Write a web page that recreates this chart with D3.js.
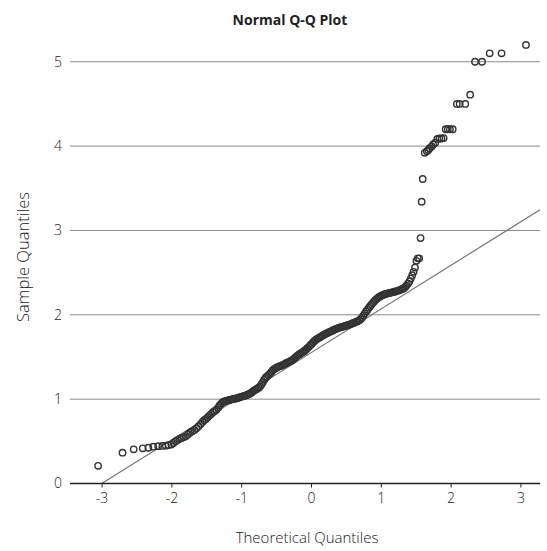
<!DOCTYPE html>
<html>
<head>
<meta charset="utf-8">
<script src="https://cdn.jsdelivr.net/npm/d3@7/dist/d3.min.js"></script>
<style>
  html, body { margin: 0; padding: 0; background: #fff; }
  svg { display: block; }
  text { font-family: "Open Sans", "Noto Sans", sans-serif; fill: #222; }
</style>
</head>
<body>
<svg id="chart" width="547" height="551"></svg>
<script>
// ---- data ----
const title = "Normal Q-Q Plot";
const xLabel = "Theoretical Quantiles";
const yLabel = "Sample Quantiles";
const xTicks = [-3, -2, -1, 0, 1, 2, 3];
const yTicks = [0, 1, 2, 3, 4, 5];
const gridValues = [1, 2, 3, 4, 5];
const lineIntercept = 1.55;
const lineSlope = 0.517;

const theoretical = [
  -3.05, -2.70, -2.54, -2.41, -2.33, -2.26, -2.19, -2.13, -2.08, -2.04,
  -2.00, -1.97, -1.94, -1.91, -1.88, -1.85, -1.82, -1.79, -1.76, -1.73,
  -1.70, -1.67, -1.64, -1.61, -1.58, -1.555, -1.53, -1.505, -1.48, -1.455,
  -1.43, -1.405, -1.38, -1.355, -1.33, -1.31, -1.29, -1.27, -1.25, -1.23,
  -1.21, -1.19, -1.17, -1.15, -1.13, -1.11, -1.09, -1.07, -1.05, -1.03,
  -1.01, -0.99, -0.97, -0.95, -0.93, -0.91, -0.89, -0.87, -0.85, -0.83,
  -0.81, -0.79, -0.77, -0.75, -0.73, -0.71, -0.69, -0.67, -0.65, -0.63,
  -0.61, -0.59, -0.57, -0.55, -0.53, -0.51, -0.49, -0.47, -0.45, -0.43,
  -0.41, -0.39, -0.37, -0.35, -0.33, -0.31, -0.29, -0.27, -0.25, -0.23,
  -0.21, -0.19, -0.17, -0.15, -0.13, -0.11, -0.09, -0.07, -0.05, -0.03,
  -0.01, 0.01, 0.03, 0.05, 0.07, 0.09, 0.11, 0.13, 0.15, 0.17,
  0.19, 0.21, 0.23, 0.25, 0.27, 0.29, 0.31, 0.33, 0.35, 0.37,
  0.39, 0.41, 0.43, 0.45, 0.47, 0.49, 0.51, 0.53, 0.55, 0.57,
  0.59, 0.61, 0.63, 0.65, 0.67, 0.69, 0.71, 0.73, 0.75, 0.77,
  0.79, 0.81, 0.83, 0.85, 0.87, 0.89, 0.91, 0.93, 0.95, 0.97,
  0.99, 1.01, 1.03, 1.05, 1.07, 1.09, 1.11, 1.13, 1.15, 1.17,
  1.19, 1.21, 1.23, 1.25, 1.27, 1.29, 1.31, 1.33, 1.35, 1.37,
  1.39, 1.41, 1.43, 1.45, 1.47, 1.49, 1.51, 1.53, 1.55, 1.57,
  1.585, 1.60, 1.63, 1.66, 1.68, 1.70, 1.73, 1.75, 1.78, 1.81,
  1.84, 1.87, 1.90, 1.93, 1.96, 1.99, 2.03, 2.09, 2.13, 2.21,
  2.28, 2.35, 2.45, 2.56, 2.73, 3.08
];

const sample = [
  0.21, 0.365, 0.405, 0.417, 0.424, 0.436, 0.443, 0.446, 0.449, 0.455,
  0.462, 0.480, 0.500, 0.515, 0.530, 0.540, 0.550, 0.562, 0.585, 0.605,
  0.620, 0.635, 0.655, 0.680, 0.705, 0.730, 0.750, 0.765, 0.785, 0.805,
  0.825, 0.845, 0.860, 0.875, 0.900, 0.925, 0.945, 0.960, 0.970, 0.975,
  0.980, 0.985, 0.990, 0.995, 0.998, 1.002, 1.006, 1.010, 1.015, 1.020,
  1.025, 1.030, 1.035, 1.040, 1.045, 1.052, 1.060, 1.068, 1.080, 1.095,
  1.105, 1.115, 1.125, 1.135, 1.150, 1.175, 1.200, 1.230, 1.255, 1.270,
  1.285, 1.300, 1.320, 1.340, 1.355, 1.365, 1.375, 1.383, 1.390, 1.395,
  1.402, 1.410, 1.420, 1.430, 1.437, 1.445, 1.452, 1.462, 1.475, 1.490,
  1.505, 1.520, 1.530, 1.542, 1.552, 1.562, 1.575, 1.590, 1.605, 1.620,
  1.640, 1.655, 1.675, 1.690, 1.705, 1.715, 1.725, 1.735, 1.745, 1.755,
  1.765, 1.775, 1.782, 1.790, 1.798, 1.806, 1.815, 1.822, 1.830, 1.837,
  1.843, 1.848, 1.853, 1.858, 1.863, 1.868, 1.873, 1.878, 1.884, 1.890,
  1.897, 1.904, 1.911, 1.918, 1.925, 1.935, 1.948, 1.965, 1.990, 2.015,
  2.040, 2.060, 2.085, 2.105, 2.125, 2.145, 2.165, 2.180, 2.195, 2.208,
  2.218, 2.228, 2.235, 2.242, 2.248, 2.252, 2.256, 2.260, 2.264, 2.268,
  2.272, 2.276, 2.281, 2.287, 2.293, 2.300, 2.307, 2.315, 2.330, 2.350,
  2.370, 2.395, 2.430, 2.470, 2.510, 2.560, 2.640, 2.670, 2.670, 2.910,
  3.340, 3.610, 3.920, 3.940, 3.955, 3.975, 3.995, 4.020, 4.040, 4.085,
  4.090, 4.090, 4.095, 4.200, 4.200, 4.200, 4.200, 4.50, 4.50, 4.50,
  4.61, 5.00, 5.00, 5.10, 5.10, 5.20
];

// ---- layout ----
const svg = d3.select("#chart");
const plotLeft = 70, plotRight = 540, plotTop = 28, plotBottom = 483.5;

const x = d3.scaleLinear().domain([-3, 3]).range([101.6, 520.4]);
const y = d3.scaleLinear().domain([0, 5]).range([483.5, 61.75]);

// clip region for the reference line
svg.append("defs").append("clipPath").attr("id", "plotClip")
  .append("rect")
  .attr("x", plotLeft).attr("y", plotTop)
  .attr("width", plotRight - plotLeft).attr("height", plotBottom - plotTop);

// grid lines
svg.append("g").selectAll("line").data(gridValues).join("line")
  .attr("x1", plotLeft).attr("x2", plotRight)
  .attr("y1", d => y(d)).attr("y2", d => y(d))
  .attr("stroke", "#8a8a8a").attr("stroke-width", 1);

// y tick labels
svg.append("g").selectAll("text").data(yTicks).join("text")
  .attr("x", 62).attr("y", d => y(d))
  .attr("dy", "0.35em")
  .attr("text-anchor", "end")
  .style("font-size", "14px").style("font-weight", 300)
  .text(d => d);

// reference line
const xDom = [x.invert(plotLeft), x.invert(plotRight)];
svg.append("line")
  .attr("clip-path", "url(#plotClip)")
  .attr("x1", x(xDom[0])).attr("y1", y(lineIntercept + lineSlope * xDom[0]))
  .attr("x2", x(xDom[1])).attr("y2", y(lineIntercept + lineSlope * xDom[1]))
  .attr("stroke", "#777").attr("stroke-width", 1.2);

// points
const pts = theoretical.map((t, i) => [t, sample[i]]);
svg.append("g").selectAll("circle").data(pts).join("circle")
  .attr("cx", d => x(d[0])).attr("cy", d => y(d[1]))
  .attr("r", 3.2)
  .attr("fill", "none")
  .attr("stroke", "#333").attr("stroke-width", 1.4);

// x axis
const xAxis = d3.axisBottom(x).tickValues(xTicks).tickSize(4).tickPadding(6)
  .tickFormat(d => d);
const gx = svg.append("g").attr("transform", `translate(0,${plotBottom})`).call(xAxis);
gx.select(".domain").remove();
gx.selectAll(".tick line").attr("stroke", "#222").attr("stroke-width", 1);
gx.selectAll(".tick text").style("font-size", "14px").style("font-weight", 300)
  .style("font-family", "'Open Sans', 'Noto Sans', sans-serif").attr("fill", "#222");
gx.append("line").attr("x1", plotLeft).attr("x2", plotRight)
  .attr("y1", 0).attr("y2", 0).attr("stroke", "#222").attr("stroke-width", 1.5);

// titles
svg.append("text").attr("x", 290).attr("y", 25).attr("text-anchor", "middle")
  .style("font-size", "14px").style("font-weight", 700).text(title);
svg.append("text").attr("x", 307).attr("y", 543).attr("text-anchor", "middle")
  .style("font-size", "15px").style("font-weight", 300).text(xLabel);
svg.append("text").attr("transform", "translate(29,257) rotate(-90)")
  .attr("text-anchor", "middle")
  .style("font-size", "16.5px").style("font-weight", 300).text(yLabel);
</script>
</body>
</html>
